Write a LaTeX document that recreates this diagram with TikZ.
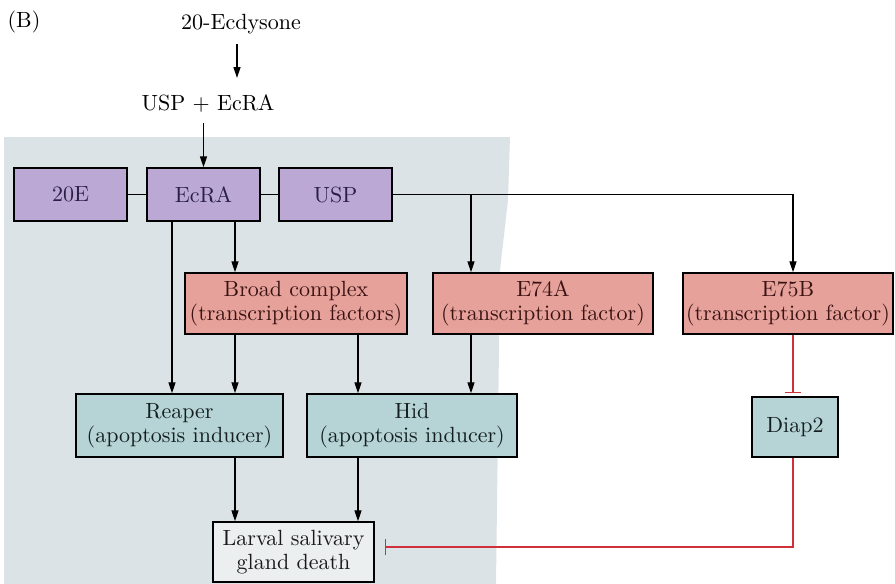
\documentclass[tikz,border=0pt]{standalone}
\usepackage{fontspec}
\setmainfont{lmroman10-regular.otf}
\usetikzlibrary{arrows.meta}
\definecolor{pageshade}{HTML}{DCE3E6}
\definecolor{purplefill}{HTML}{BBA8D4}
\definecolor{salmonfill}{HTML}{E6A19B}
\definecolor{tealfill}{HTML}{B6D3D5}
\definecolor{greyfill}{HTML}{ECEFEF}
\definecolor{purpletext}{HTML}{2A1F45}
\definecolor{redtext}{HTML}{3A1212}
\definecolor{tealtext}{HTML}{141E20}
\definecolor{inhibit}{HTML}{D0303A}
\begin{document}
\begin{tikzpicture}[x=1pt,y=-1pt,
  txt/.style={font=\fontsize{22}{23.5}\selectfont, inner sep=0pt, align=center},
  box/.style={txt, draw=black, line width=1.4pt, minimum width=#1},
  receptor/.style={box=113pt, minimum height=53pt, fill=purplefill, text=purpletext},
  factor/.style={box=#1, minimum height=61pt, fill=salmonfill, text=redtext},
  effector/.style={box=#1, minimum height=63pt, fill=tealfill, text=tealtext},
  outcome/.style={box=161pt, minimum height=60pt, fill=greyfill, text=black!90},
  arr/.style={line width=1.3pt, -{Triangle[length=11pt,width=7pt]}},
  link/.style={line width=1.3pt},
  inh/.style={line width=1.2pt, draw=inhibit, -{Bar[width=16pt,line width=1.6pt]}}]
\useasboundingbox (0,0) rectangle (895,584);
\fill[white] (0,0) rectangle (895,584);
% shaded panel behind the pathway
\fill[pageshade] (4,137) -- (510,137) -- (508,200) -- (500,270) -- (496,584) -- (4,584) -- cycle;

% labels above the receptor row
\node[txt] (panel) at (24,22) {(B)};
\node[txt] (ecd) at (241,24) {20-Ecdysone};
\node[txt] (uspecra) at (208,104) {USP + EcRA};

% receptor complex
\node[receptor] (e20) at (70.5,194.5) {20E};
\node[receptor] (ecra) at (203.5,194.5) {EcRA};
\node[receptor] (usp) at (335.5,194.5) {USP};

% transcription factors
\node[factor=222pt] (broad) at (296,303.5) {Broad complex\\(transcription factors)};
\node[factor=220pt] (e74a) at (543,303.5) {E74A\\(transcription factor)};
\node[factor=210pt] (e75b) at (788,303.5) {E75B\\(transcription factor)};

% apoptosis regulators
\node[effector=207pt] (reaper) at (179.5,425.5) {Reaper\\(apoptosis inducer)};
\node[effector=210pt] (hid) at (412,425.5) {Hid\\(apoptosis inducer)};
\node[effector=86pt, minimum height=60pt] (diap2) at (795,427) {Diap2};

% outcome
\node[outcome] (death) at (293.5,552) {Larval salivary\\gland death};

% hormone binding
\draw[arr] ([xshift=-4pt,yshift=-10pt]ecd.south) -- ([xshift=-4pt,yshift=17pt]ecd.south |- uspecra.north);
\draw[arr] ([yshift=-10pt]uspecra.south -| ecra.north) -- (ecra.north);

% receptor row links
\draw[link] (e20.east) -- (ecra.west);
\draw[link] (ecra.east) -- (usp.west);
\draw[arr] (usp.east) -| ([xshift=5pt]e75b.north);
\draw[arr] ([xshift=-72pt]e74a.north |- usp.east) -- ([xshift=-72pt]e74a.north);

% EcRA targets
\draw[arr] ([xshift=31.5pt]ecra.south) -- ([xshift=31.5pt]ecra.south |- broad.north);
\draw[arr] ([xshift=-31.5pt]ecra.south) -- ([xshift=-31.5pt]ecra.south |- reaper.north);

% transcription factor targets
\draw[arr] ([xshift=-61pt]broad.south) -- ([xshift=-61pt]broad.south |- reaper.north);
\draw[arr] ([xshift=62pt]broad.south) -- ([xshift=62pt]broad.south |- hid.north);
\draw[arr] ([xshift=-72pt]e74a.south) -- ([xshift=-72pt]e74a.south |- hid.north);
\draw[inh] ([xshift=5pt]e75b.south) -- ([xshift=5pt,yshift=3pt]e75b.south |- diap2.north);

% converging on cell death
\draw[arr] ([xshift=55.5pt]reaper.south) -- ([xshift=55.5pt]reaper.south |- death.north);
\draw[arr] ([xshift=-54pt]hid.south) -- ([xshift=-54pt]hid.south |- death.north);
\draw[inh] ([xshift=-2pt]diap2.south) |- ([xshift=10pt,yshift=5pt]death.east);
\end{tikzpicture}
\end{document}
